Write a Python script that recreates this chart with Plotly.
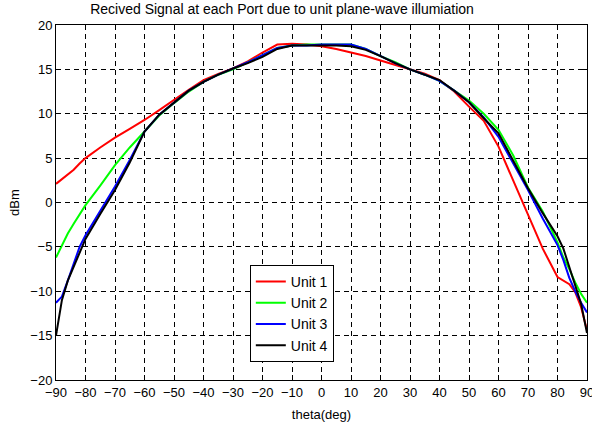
import plotly.graph_objects as go

theta = [-90, -88, -86, -84, -82, -80, -75, -70, -65, -60, -55, -50, -45, -40, -35, -30,
         -25, -20, -15, -10, -5, 0, 5, 10, 15, 20, 25, 30, 35, 40, 45, 50, 55, 60, 65,
         70, 75, 80, 82, 84, 86, 88, 90]

unit1 = [2.1, 2.6, 3.2, 3.7, 4.4, 5.0, 6.2, 7.3, 8.3, 9.3, 10.4, 11.5, 12.7, 13.8, 14.5, 15.1,
         15.9, 16.9, 17.8, 17.9, 17.8, 17.6, 17.3, 16.9, 16.5, 16.0, 15.5, 15.0, 14.5, 13.8, 12.5,
         10.8, 9.2, 6.3, 2.5, -1.5, -5.2, -8.4, -8.8, -9.2, -10.1, -11.8, -14.4]
unit2 = [-6.2, -4.8, -3.5, -2.4, -1.4, -0.3, 1.9, 4.2, 6.2, 8.0, 9.8, 11.2, 12.5, 13.6, 14.4, 15.0,
         15.8, 16.6, 17.4, 17.7, 17.8, 17.8, 17.8, 17.8, 17.3, 16.5, 15.8, 15.0, 14.4, 13.7, 12.6,
         11.5, 10.0, 8.2, 5.3, 1.7, -1.0, -4.5, -6.2, -7.5, -9.0, -10.3, -11.3]
unit3 = [-11.3, -10.6, -8.8, -6.8, -5.0, -3.7, -0.9, 1.8, 4.8, 8.0, 9.9, 11.3, 12.6, 13.6, 14.4, 15.1,
         15.8, 16.6, 17.4, 17.7, 17.7, 17.8, 17.8, 17.8, 17.3, 16.5, 15.7, 15.0, 14.4, 13.7, 12.6,
         11.3, 9.6, 7.4, 4.4, 1.4, -1.8, -4.8, -6.5, -8.5, -10.0, -11.3, -12.4]
unit4 = [-15.0, -11.0, -8.8, -7.2, -5.6, -4.1, -1.3, 1.4, 4.5, 8.0, 9.9, 11.3, 12.6, 13.6, 14.4, 15.1,
         15.7, 16.4, 17.3, 17.7, 17.7, 17.7, 17.7, 17.6, 17.2, 16.5, 15.7, 15.0, 14.4, 13.8, 12.6,
         11.3, 9.5, 7.8, 4.7, 1.6, -1.2, -3.8, -5.2, -7.2, -9.4, -11.4, -14.7]

names = ["Unit 1", "Unit 2", "Unit 3", "Unit 4"]
colors = ["#ff0000", "#00ff00", "#0000ff", "#000000"]
series = [unit1, unit2, unit3, unit4]

x_ticks = list(range(-90, 91, 10))
y_ticks = list(range(-20, 21, 5))

fig = go.Figure()
for n, c, s in zip(names, colors, series):
    fig.add_trace(go.Scatter(x=theta, y=s, mode="lines", name=n,
                             line=dict(color=c, width=2)))

fam = "Liberation Sans, Arial, sans-serif"
font = dict(family=fam, size=12, color="black")
axis_common = dict(showline=True, linecolor="black", linewidth=1, mirror="ticks",
                   ticks="inside", ticklen=5, tickcolor="black",
                   showgrid=True, gridcolor="black", gridwidth=1, griddash="5px,4px",
                   zeroline=False, tickfont=dict(family=fam, size=13, color="black"),
                   ticklabeloverflow="allow", automargin=False)

fig.update_layout(
    width=592, height=429,
    margin=dict(l=56, r=5, t=25, b=49),
    paper_bgcolor="white", plot_bgcolor="white",
    font=font,
    title=dict(text="Recived Signal at each Port due to unit plane-wave illumiation",
               x=282 / 592, xanchor="center", xref="container",
               y=1 - 9 / 429, yref="container", yanchor="middle",
               font=dict(family=fam, size=14, color="black")),
    xaxis=dict(range=[-90, 90], tickvals=x_ticks,
               title=dict(text="theta(deg)", standoff=11, font=dict(family=fam, size=13)),
               **axis_common),
    yaxis=dict(range=[-20, 20], tickvals=y_ticks,
               title=dict(text="dBm", standoff=7, font=dict(family=fam, size=13)),
               **axis_common),
    legend=dict(x=0.365, y=0.324, xanchor="left", yanchor="top",
                bgcolor="white", bordercolor="black", borderwidth=1,
                font=dict(family=fam, size=14, color="black"),
                tracegroupgap=0),
    showlegend=True,
)

fig.write_html("out.html")
